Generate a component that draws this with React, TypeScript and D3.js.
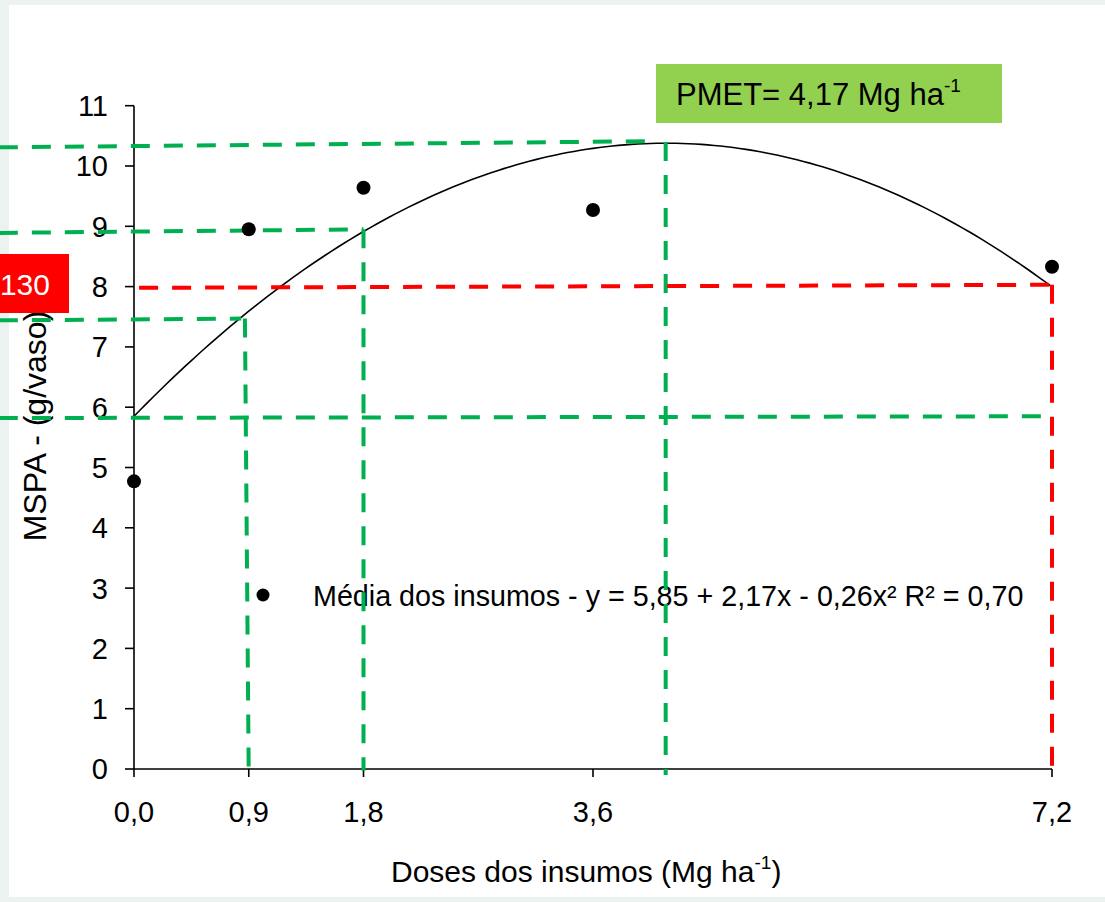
import React from "react";
import * as d3 from "d3";

// Doses (Mg ha-1) and mean shoot dry matter (g/vaso)
const doses = [0, 0.9, 1.8, 3.6, 7.2];
const mspa = [4.77, 8.95, 9.64, 9.27, 8.33];

// Quadratic fit: y = 5,85 + 2,17x - 0,26x²
const coefA = 5.85;
const coefB = 2.17;
const coefC = -0.26;

const yTicks = [0, 1, 2, 3, 4, 5, 6, 7, 8, 9, 10, 11];
const xTicks = [0, 0.9, 1.8, 3.6, 7.2];

const pmetDose = 4.17;

// Reference lines (dose, MSPA) pairs, drawn dashed
const greenGuides: [number, number][][] = [
  [[-1.06, 10.31], [4.03, 10.41]],
  [[pmetDose, 10.4], [pmetDose, -0.1]],
  [[-1.06, 8.89], [1.8, 8.95]],
  [[1.8, 8.95], [1.8, -0.03]],
  [[-1.06, 7.44], [0.84, 7.47]],
  [[0.87, 7.47], [0.9, -0.15]],
  [[-1.06, 5.82], [7.2, 5.85]],
];
const redGuides: [number, number][][] = [
  [[0.04, 7.98], [7.2, 8.03]],
  [[7.2, 8.03], [7.2, -0.15]],
];

const legendText = "Média dos insumos - y = 5,85 + 2,17x - 0,26x² R² = 0,70";
const pmetLabel = "PMET= 4,17 Mg ha";
const redLabel = "130";

const W = 1105;
const H = 902;
const FONT = "'Liberation Sans', Arial, Helvetica, sans-serif";

const ptFormat = d3.formatLocale({
  decimal: ",",
  thousands: ".",
  grouping: [3],
  currency: ["", ""],
}).format(".1f");

export default function App() {
  const x = d3.scaleLinear().domain([0, 7.2]).range([134, 1052]);
  const y = d3.scaleLinear().domain([0, 11]).range([769, 105.7]);

  const fitPts = d3.range(0, 7.2001, 0.05).map((d) => [d, coefA + coefB * d + coefC * d * d] as [number, number]);
  const curve = d3
    .line<[number, number]>()
    .x((d) => x(d[0]))
    .y((d) => y(d[1]))(fitPts) as string;

  const seg = d3
    .line<[number, number]>()
    .x((d) => x(d[0]))
    .y((d) => y(d[1]));

  return (
    <svg
      width={W}
      height={H}
      style={{ position: "absolute", left: 0, top: 0, display: "block" }}
      fontFamily={FONT}
    >
      <rect x={0} y={0} width={W} height={H} fill="#ebf2ef" />
      <rect x={9} y={5} width={W - 9} height={892} fill="#ffffff" />

      {/* axes */}
      <line x1={x(0)} x2={x(0)} y1={y(11)} y2={y(0)} stroke="#000" strokeWidth={1.6} />
      <line x1={x(0)} x2={x(7.2)} y1={y(0)} y2={y(0)} stroke="#000" strokeWidth={1.6} />
      {yTicks.map((t) => (
        <g key={"y" + t}>
          <line x1={x(0) - 9} x2={x(0)} y1={y(t)} y2={y(t)} stroke="#000" strokeWidth={1.6} />
          <text x={108} y={y(t)} dy="0.36em" textAnchor="end" fontSize={29} fill="#000">
            {t}
          </text>
        </g>
      ))}
      {xTicks.map((t) => (
        <g key={"x" + t}>
          <line x1={x(t)} x2={x(t)} y1={y(0)} y2={y(0) + 8} stroke="#000" strokeWidth={1.6} />
          <text x={x(t)} y={822} textAnchor="middle" fontSize={29} fill="#000">
            {ptFormat(t)}
          </text>
        </g>
      ))}

      {/* axis titles */}
      <text x={391} y={882} fontSize={30} fill="#000">
        Doses dos insumos (Mg ha
        <tspan fontSize={19} dy={-13}>-1</tspan>
        <tspan dy={13}>)</tspan>
      </text>
      <text transform="translate(46,426) rotate(-90)" textAnchor="middle" fontSize={32} fill="#000">
        MSPA - (g/vaso)
      </text>

      {/* legend */}
      <circle cx={263} cy={595} r={6.5} fill="#000" />
      <text x={313} y={606} fontSize={28.7} fill="#000">
        {legendText}
      </text>

      {/* fitted curve */}
      <path d={curve} fill="none" stroke="#000" strokeWidth={1.6} />

      {/* dashed guides */}
      {greenGuides.map((g, i) => (
        <path key={"g" + i} d={seg(g) as string} fill="none" stroke="#00b050" strokeWidth={4} strokeDasharray="19 14" />
      ))}
      {redGuides.map((g, i) => (
        <path key={"r" + i} d={seg(g) as string} fill="none" stroke="#ff0000" strokeWidth={4} strokeDasharray="19 14" />
      ))}

      {/* observed means */}
      {doses.map((d, i) => (
        <circle key={"p" + i} cx={x(d)} cy={y(mspa[i])} r={7} fill="#000" />
      ))}

      {/* PMET label */}
      <rect x={656} y={64} width={346} height={59} fill="#92d050" />
      <text x={676} y={105} fontSize={31} fill="#000">
        {pmetLabel}
        <tspan fontSize={19} dy={-13}>-1</tspan>
      </text>

      {/* red label at left */}
      <rect x={-20} y={254} width={89} height={59} fill="#ff0000" />
      <text x={50} y={295} textAnchor="end" fontSize={30} fill="#ffffff">
        {redLabel}
      </text>
    </svg>
  );
}
